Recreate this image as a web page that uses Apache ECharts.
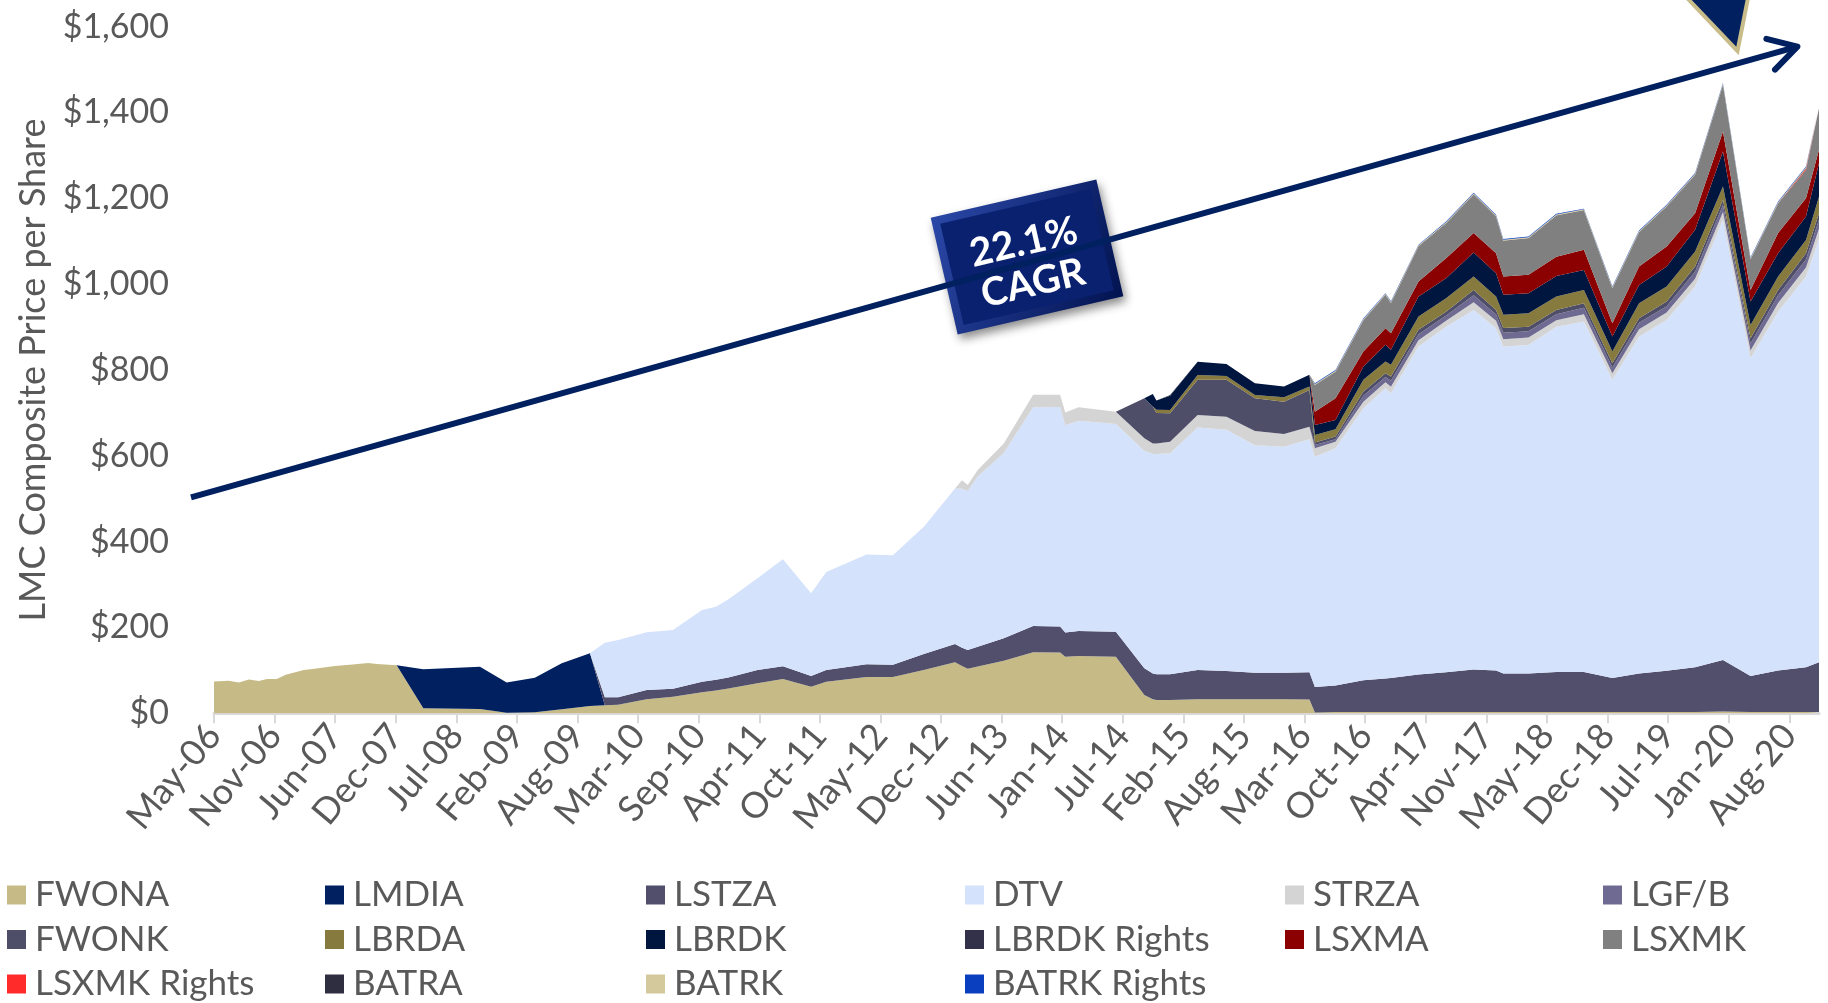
<!DOCTYPE html>
<html>
<head>
<meta charset="utf-8">
<title>LMC Composite Price per Share</title>
<script src="https://cdn.jsdelivr.net/npm/echarts@6.0.0/dist/echarts.min.js"></script>
<style>
  html, body { margin: 0; padding: 0; background: #fff; }
  #chart { width: 1828px; height: 1003px; }
</style>
</head>
<body>
<div id="chart"></div>
<script>
// dates of the composite's vertices (roughly monthly early on, quarterly from 2016)
const dates = [
  '2006-05-12', '2006-06-29', '2006-08-02', '2006-09-04', '2006-10-07', '2006-11-03', '2006-12-05', '2007-01-04', '2007-03-04', '2007-04-02',
  '2007-06-15', '2007-08-13', '2007-10-03', '2007-11-01', '2008-01-05', '2008-04-02', '2008-10-06', '2009-01-02', '2009-04-05', '2009-07-03',
  '2009-10-04', '2009-11-22', '2010-01-05', '2010-04-09', '2010-07-05', '2010-10-09', '2010-11-24', '2011-01-04', '2011-04-10', '2011-07-03',
  '2011-10-04', '2011-11-23', '2012-04-04', '2012-06-30', '2012-10-10', '2013-01-21', '2013-02-13', '2013-03-04', '2013-04-06', '2013-07-01',
  '2013-10-06', '2014-01-03', '2014-01-20', '2014-03-05', '2014-07-06', '2014-10-08', '2014-11-05', '2014-11-17', '2015-01-01', '2015-04-02',
  '2015-07-06', '2015-10-08', '2016-01-12', '2016-04-05', '2016-04-23', '2016-06-30', '2016-09-30', '2016-12-12', '2016-12-30', '2017-03-31',
  '2017-06-30', '2017-09-29', '2017-12-12', '2018-01-05', '2018-03-29', '2018-06-29', '2018-09-28', '2018-12-31', '2019-03-29', '2019-06-28',
  '2019-09-30', '2019-12-31', '2020-03-31', '2020-06-30', '2020-09-30', '2020-11-12'
];

const tickLabels = [
  'May-06', 'Nov-06', 'Jun-07', 'Dec-07', 'Jul-08', 'Feb-09', 'Aug-09', 'Mar-10', 'Sep-10', 'Apr-11',
  'Oct-11', 'May-12', 'Dec-12', 'Jun-13', 'Jan-14', 'Jul-14', 'Feb-15', 'Aug-15', 'Mar-16', 'Oct-16',
  'Apr-17', 'Nov-17', 'May-18', 'Dec-18', 'Jul-19', 'Jan-20', 'Aug-20'
];

const fwona = [
  74, 76, 72, 78.5, 75, 80, 80, 90, 101, 103,
  110, 113.5, 117, 115, 112, 11.6, 10, 1.5, 2.3, 9.3,
  17, 18.6, 20, 32.6, 38.8, 49, 53, 58, 70, 80,
  62, 73.7, 84.5, 84.5, 101, 119, 110, 104, 109, 122.6,
  142, 141.4, 132, 133.6, 132, 42.7, 33, 31, 31, 32.6,
  32.6, 32.6, 32.6, 31.9, 2, 3, 3, 3, 3, 3,
  3, 3, 3, 3, 3, 3, 3, 3, 3, 3,
  3, 4, 3, 3, 3, 3
];
const lmdia = [
  0, 0, 0, 0, 0, 0, 0, 0, 0, 0,
  0, 0, 0, 0, 0, 91, 98.6, 70, 80.7, 107.3,
  123, 0, 0, 0, 0, 0, 0, 0, 0, 0,
  0, 0, 0, 0, 0, 0, 0, 0, 0, 0,
  0, 0, 0, 0, 0, 0, 0, 0, 0, 0,
  0, 0, 0, 0, 0, 0, 0, 0, 0, 0,
  0, 0, 0, 0, 0, 0, 0, 0, 0, 0,
  0, 0, 0, 0, 0, 0
];
const lstza = [
  0, 0, 0, 0, 0, 0, 0, 0, 0, 0,
  0, 0, 0, 0, 0, 0, 0, 0, 0, 0,
  0, 18.7, 17.3, 21.7, 18.6, 24.4, 25, 25.5, 31, 29.4,
  25, 27.3, 30, 28.5, 37, 42.5, 43, 43.6, 46, 52.2,
  61.5, 60.6, 56, 58.4, 58, 62.3, 60, 60, 60, 68.4,
  66, 62, 62, 63.7, 59.4, 61.5, 74, 78, 79.4, 87.2,
  92.6, 98.8, 97, 89.5, 89.5, 93.4, 93.4, 79.4, 90, 96,
  104.3, 120.4, 84, 96.5, 104.3, 116
];
const dtv = [
  0, 0, 0, 0, 0, 0, 0, 0, 0, 0,
  0, 0, 0, 0, 0, 0, 0, 0, 0, 0,
  0, 127.3, 133.7, 134.5, 136.6, 167.6, 170.5, 182.2, 213.7, 249.6,
  193, 228, 255.5, 255.5, 297, 362.3, 370, 370.4, 397, 432,
  509.5, 512, 483, 489.5, 484, 507, 511, 513, 515, 565,
  562.4, 530.3, 526.3, 543.1, 536.6, 553.2, 634, 676.6, 663.6, 764.4,
  805.4, 838.2, 797.5, 762.1, 766, 804.6, 816.6, 694.6, 785, 817.8,
  887.2, 1025.6, 740.5, 836.5, 910.4, 986
];
const strza = [
  0, 0, 0, 0, 0, 0, 0, 0, 0, 0,
  0, 0, 0, 0, 0, 0, 0, 0, 0, 0,
  0, 0, 0, 0, 0, 0, 0, 0, 0, 0,
  0, 0, 0, 0, 0, 0, 20, 14, 15, 22,
  29.5, 28.5, 30, 31.5, 29, 29, 25, 25, 27, 29,
  30, 33, 30, 29.3, 19.7, 15.3, 15, 14, 15, 15,
  14, 18, 17, 17, 17, 15, 17, 15.5, 17, 17,
  18, 18, 18, 20, 21, 24
];
const lgfb = [
  0, 0, 0, 0, 0, 0, 0, 0, 0, 0,
  0, 0, 0, 0, 0, 0, 0, 0, 0, 0,
  0, 0, 0, 0, 0, 0, 0, 0, 0, 0,
  0, 0, 0, 0, 0, 0, 0, 0, 0, 0,
  0, 0, 0, 0, 0, 0, 0, 0, 0, 0,
  0, 0, 0, 0, 7.7, 5.7, 14, 12, 14, 14,
  12, 16, 15, 15, 15, 14, 15, 13.5, 15, 15,
  16.5, 16.5, 16.5, 18, 19, 21
];
const fwonk = [
  0, 0, 0, 0, 0, 0, 0, 0, 0, 0,
  0, 0, 0, 0, 0, 0, 0, 0, 0, 0,
  0, 0, 0, 0, 0, 0, 0, 0, 0, 0,
  0, 0, 0, 0, 0, 0, 0, 0, 0, 0,
  0, 0, 0, 0, 0, 93, 86, 71, 66, 82,
  86, 76, 75, 85.6, 5.4, 6.1, 10, 9, 10, 10,
  9, 12.7, 10.5, 11, 10.5, 10, 10.7, 10, 10.7, 10.7,
  12, 12, 12, 12.7, 14.3, 15.5
];
const lbrda = [
  0, 0, 0, 0, 0, 0, 0, 0, 0, 0,
  0, 0, 0, 0, 0, 0, 0, 0, 0, 0,
  0, 0, 0, 0, 0, 0, 0, 0, 0, 0,
  0, 0, 0, 0, 0, 0, 0, 0, 0, 0,
  0, 0, 0, 0, 0, 0, 0, 7.2, 8, 11.5,
  9, 8, 10.6, 7.9, 17.9, 17.2, 27, 27.1, 27, 31,
  31.4, 31, 31, 31, 31.4, 31, 31, 27, 35, 35,
  35, 31, 31, 31, 31, 38.5
];
const lbrdk = [
  0, 0, 0, 0, 0, 0, 0, 0, 0, 0,
  0, 0, 0, 0, 0, 0, 0, 0, 0, 0,
  0, 0, 0, 0, 0, 0, 0, 0, 0, 0,
  0, 0, 0, 0, 0, 0, 0, 0, 0, 0,
  0, 0, 0, 0, 0, 0, 29, 22, 33, 31,
  28, 27, 25, 27.2, 23.3, 21.7, 31, 38.9, 35, 46.5,
  46.6, 56, 54.6, 46.5, 46.6, 48, 46.3, 35, 42.3, 46.5,
  50.6, 81.5, 54.5, 54.3, 54.6, 78
];
const lbrdkRights = [
  0, 0, 0, 0, 0, 0, 0, 0, 0, 0,
  0, 0, 0, 0, 0, 0, 0, 0, 0, 0,
  0, 0, 0, 0, 0, 0, 0, 0, 0, 0,
  0, 0, 0, 0, 0, 0, 0, 0, 0, 0,
  0, 0, 0, 0, 0, 0, 0, 0, 2, 0,
  0, 0, 0, 0, 0, 0, 0, 0, 0, 0,
  0, 0, 0, 0, 0, 0, 0, 0, 0, 0,
  0, 0, 0, 0, 0, 0
];
const lsxma = [
  0, 0, 0, 0, 0, 0, 0, 0, 0, 0,
  0, 0, 0, 0, 0, 0, 0, 0, 0, 0,
  0, 0, 0, 0, 0, 0, 0, 0, 0, 0,
  0, 0, 0, 0, 0, 0, 0, 0, 0, 0,
  0, 0, 0, 0, 0, 0, 0, 0, 0, 0,
  0, 0, 0, 0, 31, 50.6, 35, 38.5, 38.7, 35,
  46.6, 45.3, 46.4, 42.7, 42.7, 45, 47, 31, 43, 46.6,
  38.9, 46.7, 27.2, 47, 42.9, 31
];
const lsxmk = [
  0, 0, 0, 0, 0, 0, 0, 0, 0, 0,
  0, 0, 0, 0, 0, 0, 0, 0, 0, 0,
  0, 0, 0, 0, 0, 0, 0, 0, 0, 0,
  0, 0, 0, 0, 0, 0, 0, 0, 0, 0,
  0, 0, 0, 0, 0, 0, 0, 0, 0, 0,
  0, 0, 0, 0, 61, 60.7, 72, 77, 69.3, 81,
  80.4, 89, 84.5, 82.3, 84.3, 95, 91, 80.5, 79, 92.4,
  88.5, 107.9, 70.3, 68.5, 65.5, 97
];
const lsxmkRights = [
  0, 0, 0, 0, 0, 0, 0, 0, 0, 0,
  0, 0, 0, 0, 0, 0, 0, 0, 0, 0,
  0, 0, 0, 0, 0, 0, 0, 0, 0, 0,
  0, 0, 0, 0, 0, 0, 0, 0, 0, 0,
  0, 0, 0, 0, 0, 0, 0, 0, 0, 0,
  0, 0, 0, 0, 0, 0, 0, 0, 0, 0,
  0, 0, 0, 0, 0, 0, 0, 0, 0, 0,
  0, 0, 0, 0, 3, 3
];
const batra = [
  0, 0, 0, 0, 0, 0, 0, 0, 0, 0,
  0, 0, 0, 0, 0, 0, 0, 0, 0, 0,
  0, 0, 0, 0, 0, 0, 0, 0, 0, 0,
  0, 0, 0, 0, 0, 0, 0, 0, 0, 0,
  0, 0, 0, 0, 0, 0, 0, 0, 0, 0,
  0, 0, 0, 0, 1, 1, 1, 1, 1, 1,
  1, 1, 1, 1, 1, 1, 1, 1, 1, 1,
  1, 1, 1, 1, 1, 1
];
const batrk = [
  0, 0, 0, 0, 0, 0, 0, 0, 0, 0,
  0, 0, 0, 0, 0, 0, 0, 0, 0, 0,
  0, 0, 0, 0, 0, 0, 0, 0, 0, 0,
  0, 0, 0, 0, 0, 0, 0, 0, 0, 0,
  0, 0, 0, 0, 0, 0, 0, 0, 0, 0,
  0, 0, 0, 0, 2.5, 2.5, 2.5, 2.5, 2.5, 2.5,
  2.5, 2.5, 2.5, 2.5, 2.5, 2.5, 2.5, 2.5, 2.5, 2.5,
  2.5, 2.5, 2.5, 2.5, 2.5, 2.5
];
const batrkRights = [
  0, 0, 0, 0, 0, 0, 0, 0, 0, 0,
  0, 0, 0, 0, 0, 0, 0, 0, 0, 0,
  0, 0, 0, 0, 0, 0, 0, 0, 0, 0,
  0, 0, 0, 0, 0, 0, 0, 0, 0, 0,
  0, 0, 0, 0, 0, 0, 0, 0, 0, 0,
  0, 0, 0, 0, 1.5, 1.5, 1.5, 1.5, 1.5, 1.5,
  1.5, 1.5, 1.5, 1.5, 1.5, 1.5, 1.5, 1.5, 1.5, 1.5,
  1.5, 1.5, 1.5, 1.5, 1.5, 1.5
];

// stack order, bottom to top
const seriesDefs = [
  ['FWONA', fwona, '#c6bb87'],
  ['LMDIA', lmdia, '#002060'],
  ['LSTZA', lstza, '#514f6b'],
  ['DTV', dtv, '#d5e2fb'],
  ['STRZA', strza, '#d4d4d4'],
  ['LGF/B', lgfb, '#6e6a91'],
  ['FWONK', fwonk, '#4f4e69'],
  ['LBRDA', lbrda, '#877a3e'],
  ['LBRDK', lbrdk, '#00163e'],
  ['LBRDK Rights', lbrdkRights, '#33314a'],
  ['LSXMA', lsxma, '#8b0000'],
  ['LSXMK', lsxmk, '#808080'],
  ['LSXMK Rights', lsxmkRights, '#ff2a2a'],
  ['BATRA', batra, '#2f2d40'],
  ['BATRK', batrk, '#d3c99d'],
  ['BATRK Rights', batrkRights, '#0a3fbf']
];

const legendCols = [
  ['FWONA', 'FWONK', 'LSXMK Rights'],
  ['LMDIA', 'LBRDA', 'BATRA'],
  ['LSTZA', 'LBRDK', 'BATRK'],
  ['DTV', 'LBRDK Rights', 'BATRK Rights'],
  ['STRZA', 'LSXMA'],
  ['LGF/B', 'LSXMK']
];
const legendX = [7, 325, 646, 965, 1285, 1603];

const DAY = 86400000;
function toTime(s) {
  const p = s.split('-');
  return Date.UTC(+p[0], +p[1] - 1, +p[2]);
}
const xStart = toTime(dates[0]);
const xEnd = toTime(dates[dates.length - 1]);
const spanDays = (xEnd - xStart) / DAY;
// Excel-style date axis: a major unit of 200 days from the first date
const tickDays = tickLabels.map((t, i) => i * 200);

const FONT = 'Lato';
const GREY = '#595959';

const chart = echarts.init(document.getElementById('chart'), null, { renderer: 'canvas' });

chart.setOption({
  animation: false,
  backgroundColor: '#ffffff',
  textStyle: { fontFamily: FONT },
  grid: { left: 214, right: 9, top: 26.7, bottom: 289.7 },
  xAxis: [
    {
      // the data axis (time), drawn invisibly
      type: 'time',
      min: xStart,
      max: xEnd,
      show: false
    },
    {
      // the visible date axis, in days from the first date
      type: 'value',
      position: 'bottom',
      min: 0,
      max: spanDays,
      splitLine: { show: false },
      axisLine: { show: true, lineStyle: { color: '#d9d9d9', width: 3 } },
      axisTick: {
        show: true,
        length: 10,
        customValues: tickDays,
        lineStyle: { color: '#d9d9d9', width: 2 }
      },
      axisLabel: {
        customValues: tickDays,
        rotate: 50,
        margin: 16,
        color: GREY,
        fontSize: 36,
        fontFamily: FONT,
        hideOverlap: false,
        formatter: function (v) {
          return tickLabels[Math.round(v / 200)] || '';
        }
      }
    }
  ],
  yAxis: {
    type: 'value',
    min: 0,
    max: 1600,
    interval: 200,
    name: 'LMC Composite Price per Share',
    nameLocation: 'middle',
    nameRotate: 90,
    nameGap: 162,
    nameTextStyle: { fontSize: 36, color: GREY, fontFamily: FONT },
    axisLine: { show: false },
    axisTick: { show: false },
    splitLine: { show: false },
    axisLabel: {
      margin: 45,
      color: GREY,
      fontSize: 34,
      fontFamily: FONT,
      formatter: v => '$' + v.toLocaleString('en-US')
    }
  },
  legend: legendCols.map((names, i) => ({
    orient: 'vertical',
    left: legendX[i],
    top: 876,
    height: 150,
    padding: 0,
    itemGap: 6.5,
    itemWidth: 19,
    itemHeight: 19,
    icon: 'rect',
    selectedMode: false,
    data: names,
    textStyle: { fontFamily: FONT, fontSize: 35, color: GREY, lineHeight: 38, padding: [0, 0, 0, 4] }
  })),
  series: seriesDefs.map(([name, vals, color]) => ({
    name: name,
    type: 'line',
    xAxisIndex: 0,
    stack: 'lmc',
    symbol: 'none',
    silent: true,
    lineStyle: { width: 0 },
    itemStyle: { color: color },
    areaStyle: { color: color, opacity: 1 },
    emphasis: { disabled: true },
    data: vals.map((v, i) => [toTime(dates[i]), v])
  })),
  graphic: [
    {
      type: 'line', z: 100,
      shape: { x1: 191, y1: 497.3, x2: 1797.4, y2: 46.7 },
      style: { stroke: '#002060', lineWidth: 6 }
    },
    {
      type: 'polyline', z: 100,
      shape: { points: [[1766.4, 38.8], [1797.4, 46.7], [1775, 69.6]] },
      style: { stroke: '#002060', lineWidth: 6, lineCap: 'round', lineJoin: 'round', fill: null }
    },
    {
      type: 'group', x: 1027, y: 257, rotation: 13 * Math.PI / 180, z: 110,
      children: [
        {
          type: 'rect',
          shape: { x: -85, y: -60, width: 170, height: 120 },
          style: {
            fill: new echarts.graphic.LinearGradient(0, 0, 1, 1, [
              { offset: 0, color: '#2b48a8' },
              { offset: 1, color: '#021350' }
            ]),
            shadowBlur: 10, shadowColor: 'rgba(0,0,0,0.45)', shadowOffsetX: 3, shadowOffsetY: 5
          }
        },
        {
          type: 'rect',
          shape: { x: -77, y: -52, width: 154, height: 104 },
          style: { fill: '#0a2170' }
        },
        {
          type: 'text', x: 0, y: 6,
          style: {
            text: '22.1%\nCAGR', fill: '#ffffff', fontFamily: FONT, fontWeight: 'bold',
            fontSize: 39, lineHeight: 42, align: 'center', verticalAlign: 'middle'
          }
        }
      ]
    },
    {
      type: 'polygon', z: 100,
      shape: { points: [[1670, -20], [1751.6, -20], [1737.5, 51]] },
      style: { fill: '#002060', stroke: '#c8bd8a', lineWidth: 4 }
    }
  ]
});
</script>
</body>
</html>
